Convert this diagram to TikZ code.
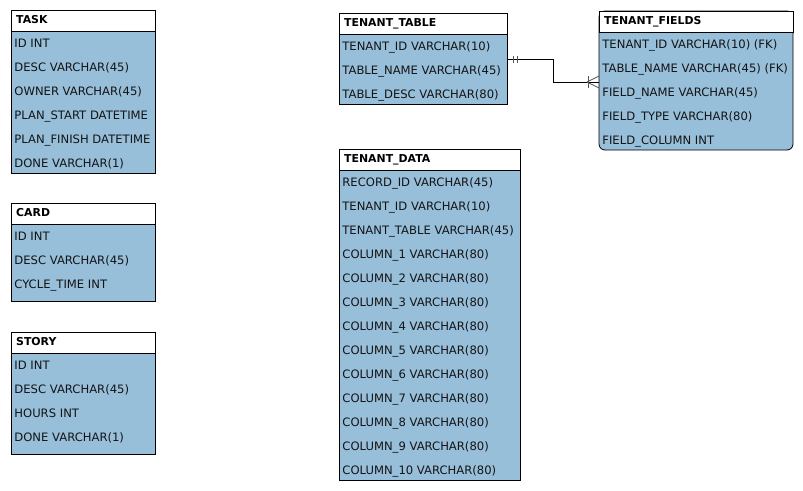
\documentclass[tikz,border=0pt]{standalone}
\usepackage{fontspec}
\setmainfont{DejaVu Sans}
\definecolor{erblue}{RGB}{152,191,218}
\definecolor{markgray}{RGB}{85,85,85}
\definecolor{textgray}{RGB}{20,20,20}
\tikzset{
  x=1pt, y=-1pt,
  tablebody/.style={draw=black, line width=0.8pt, fill=erblue, anchor=north west, inner sep=0pt, outer sep=0pt},
  tablehead/.style={draw=black, line width=0.8pt, fill=white, anchor=north west, inner sep=0pt, outer sep=0pt},
  headtext/.style={anchor=base west, inner sep=0pt, font=\fontsize{10.9}{12}\selectfont\bfseries},
  rowtext/.style={anchor=base west, inner sep=0pt, text=textgray, font=\fontsize{11.6}{13}\selectfont},
  relline/.style={draw=black, line width=0.8pt},
  relmark/.style={draw=markgray, line width=0.8pt}
}
% #1 body style, #2 id, #3 x left, #4 x right, #5 top, #6 header bottom, #7 bottom, #8 title, #9 rows
\newcommand\ertable[9][]{%
  \pgfmathsetmacro\tabw{#4-#3}%
  \pgfmathsetmacro\tabh{#7-#5}%
  \pgfmathsetmacro\headh{#6-#5}%
  \node[tablebody, #1, minimum width=\tabw pt, minimum height=\tabh pt] (#2) at (#3,#5) {};
  \node[tablehead, minimum width=\tabw pt, minimum height=\headh pt] (#2h) at (#3,#5) {};
  \node[headtext] (#2t) at ({#3+5},{#5+13.3}) {#8};
  \foreach \r [count=\i] in {#9} {
    \node[rowtext] (#2r\i) at ({#3+3.2},{#6+16+24*(\i-1)}) {\r};
  }%
}
\begin{document}
\begin{tikzpicture}
\useasboundingbox (0,0) rectangle (803,490);
\ertable{task}{11}{155}{10}{31}{173}{TASK}{ID INT,DESC VARCHAR(45),OWNER VARCHAR(45),PLAN\_START DATETIME,PLAN\_FINISH DATETIME,DONE VARCHAR(1)}
\ertable{card}{11}{155}{203}{224}{301}{CARD}{ID INT,DESC VARCHAR(45),CYCLE\_TIME INT}
\ertable{story}{11}{155}{332}{353}{454}{STORY}{ID INT,DESC VARCHAR(45),HOURS INT,DONE VARCHAR(1)}
\ertable{tt}{339}{507}{13}{34}{104}{TENANT\_TABLE}{TENANT\_ID VARCHAR(10),TABLE\_NAME VARCHAR(45),TABLE\_DESC VARCHAR(80)}
\ertable[rounded corners=6pt]{tf}{599}{793}{11}{32}{150}{TENANT\_FIELDS}{TENANT\_ID VARCHAR(10) (FK),TABLE\_NAME VARCHAR(45) (FK),FIELD\_NAME VARCHAR(45),FIELD\_TYPE VARCHAR(80),FIELD\_COLUMN INT}
\ertable{td}{339}{520}{149}{170}{480}{TENANT\_DATA}{RECORD\_ID VARCHAR(45),TENANT\_ID VARCHAR(10),TENANT\_TABLE VARCHAR(45),COLUMN\_1 VARCHAR(80),COLUMN\_2 VARCHAR(80),COLUMN\_3 VARCHAR(80),COLUMN\_4 VARCHAR(80),COLUMN\_5 VARCHAR(80),COLUMN\_6 VARCHAR(80),COLUMN\_7 VARCHAR(80),COLUMN\_8 VARCHAR(80),COLUMN\_9 VARCHAR(80),COLUMN\_10 VARCHAR(80)}
% relationship TENANT_TABLE (one) -- TENANT_FIELDS (many)
\coordinate (relA) at ([yshift=-46pt]tt.north east);
\coordinate (relB) at ([yshift=-71pt]tf.north west);
\draw[relline] (relA) -- ++(46,0) |- (relB);
\draw[relmark] ([xshift=6pt,yshift=3.5pt]relA) -- ++(0,7);
\draw[relmark] ([xshift=10pt,yshift=3.5pt]relA) -- ++(0,7);
\draw[relmark] ([xshift=-11pt,yshift=6pt]relB) -- ++(0,12);
\draw[relmark] ([xshift=-12pt]relB) -- ([yshift=6pt]relB);
\draw[relmark] ([xshift=-12pt]relB) -- ([yshift=-6pt]relB);
\end{tikzpicture}
\end{document}
